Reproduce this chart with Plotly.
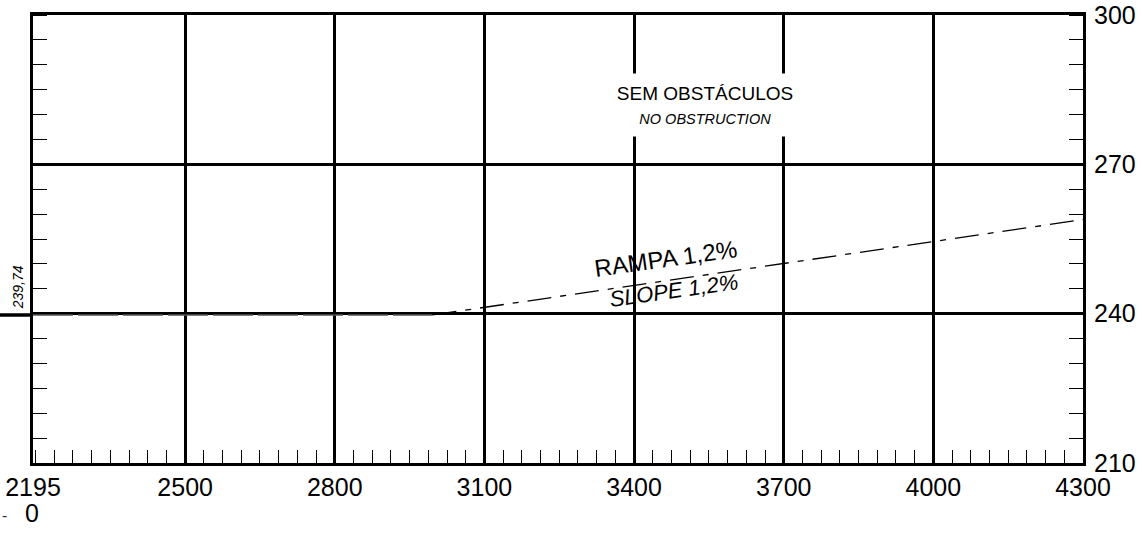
import plotly.graph_objects as go

# ---- data ----
x_ticks = [2195, 2500, 2800, 3100, 3400, 3700, 4000, 4300]
x_tick_labels = ["2195", "2500", "2800", "3100", "3400", "3700", "4000", "4300"]
y_ticks = [210, 240, 270, 300]
y_tick_labels = ["210", "240", "270", "300"]

flat_x = [2195, 2996]
flat_y = [239.74, 239.74]
ramp_x = [2996, 4300]
ramp_y = [239.74, 258.9]

start_level_label = "239,74"
ramp_label = "RAMPA 1,2%"
slope_label = "SLOPE 1,2%"
zone_label = "SEM OBSTÁCULOS"
zone_label_en = "NO OBSTRUCTION"

FONT = "Liberation Sans, Arial, sans-serif"
PW = 1050  # plot width in px
PH = 448   # plot height in px

fig = go.Figure()
fig.add_trace(go.Scatter(x=flat_x, y=flat_y, mode="lines",
                         line=dict(color="#555555", width=1.5, dash="40px,5px"),
                         showlegend=False, hoverinfo="skip"))
fig.add_trace(go.Scatter(x=ramp_x, y=ramp_y, mode="lines",
                         line=dict(color="black", width=1.3, dash="24px,9px,6px,9px"),
                         showlegend=False, hoverinfo="skip"))

# stub of the level line to the left of the frame
fig.add_shape(type="line", xref="paper", yref="y", x0=-33 / PW, x1=0,
              y0=flat_y[0], y1=flat_y[0], line=dict(color="black", width=3.5))

annotations = [
    dict(x=-15 / PW, xref="paper", y=245.3, yref="y", text=f"<i>{start_level_label}</i>",
         textangle=-90, showarrow=False, xanchor="center", yanchor="middle",
         font=dict(size=14, color="black", family=FONT)),
    dict(x=3465, y=251.0, text=ramp_label, textangle=-8, showarrow=False,
         font=dict(size=24, color="black", family=FONT)),
    dict(x=3481, y=244.6, text=f"<i>{slope_label}</i>", textangle=-8, showarrow=False,
         font=dict(size=22, color="black", family=FONT)),
    dict(x=3542, y=282.0, text=f"{zone_label}<br><span style='font-size:14.5px'><i>{zone_label_en}</i></span>",
         showarrow=False, bgcolor="white", width=330, height=62, borderpad=0,
         font=dict(size=19, color="black", family=FONT)),
    dict(x=(32 - 33) / PW, xref="paper", y=-(513 - 463) / PH, yref="paper", text="0",
         showarrow=False, xanchor="center", yanchor="middle",
         font=dict(size=25, color="black", family=FONT)),
    dict(x=(4 - 33) / PW, xref="paper", y=-(515 - 463) / PH, yref="paper", text="-",
         showarrow=False, xanchor="center", yanchor="middle",
         font=dict(size=16, color="#333333", family=FONT)),
]

fig.update_layout(
    width=1142, height=537,
    margin=dict(l=33, r=59, t=15, b=74, autoexpand=False),
    paper_bgcolor="white", plot_bgcolor="white",
    font=dict(family=FONT, color="black"),
    annotations=annotations,
    xaxis=dict(
        range=[2195, 4300], tickmode="array", tickvals=x_ticks, ticktext=x_tick_labels,
        showgrid=True, gridcolor="black", gridwidth=2.5, zeroline=False,
        showline=True, linecolor="black", linewidth=3, mirror=True,
        ticks="", ticklabelstandoff=0, automargin=False, ticklabeloverflow="allow",
        tickfont=dict(size=25, color="black", family=FONT),
        minor=dict(tickmode="linear", tick0=2500, dtick=37.5, ticks="inside",
                   ticklen=13, tickwidth=1.3, tickcolor="black", showgrid=False),
        fixedrange=True,
    ),
    yaxis=dict(
        range=[210, 300], side="right", tickmode="array", tickvals=y_ticks, ticktext=y_tick_labels,
        showgrid=True, gridcolor="black", gridwidth=2.5, zeroline=False,
        showline=True, linecolor="black", linewidth=3, mirror="allticks",
        ticks="", ticklabelstandoff=3, automargin=False, ticklabeloverflow="allow",
        tickfont=dict(size=25, color="black", family=FONT),
        minor=dict(tickmode="linear", tick0=210, dtick=5, ticks="inside",
                   ticklen=14, tickwidth=1.3, tickcolor="black", showgrid=False),
        fixedrange=True,
    ),
)

fig.write_html("out.html", config={"displayModeBar": False},
               post_script="document.body.style.margin='0';")
